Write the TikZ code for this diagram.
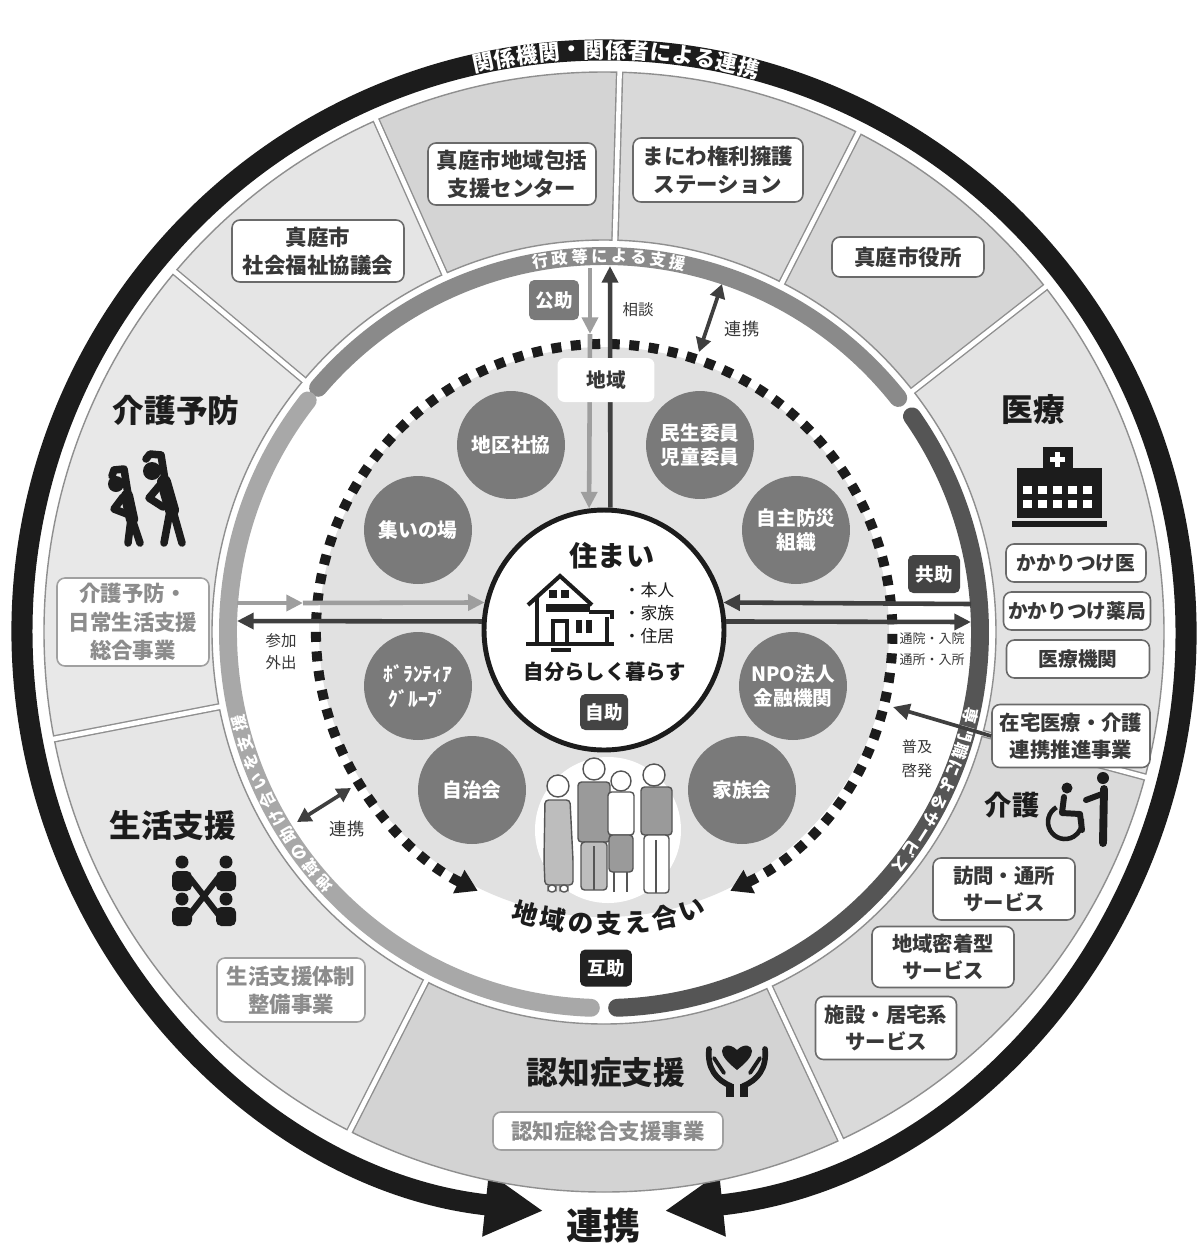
\documentclass[tikz,border=0pt]{standalone}
\usepackage{fontspec}
\setmainfont{Noto Sans CJK JP}
\usetikzlibrary{arrows.meta}

\definecolor{ink}{HTML}{1C1C1C}
\definecolor{dark}{HTML}{383838}
\definecolor{boxline}{HTML}{6A6A6A}
\definecolor{softtext}{HTML}{8C8C8C}
\definecolor{softline}{HTML}{A0A0A0}
\definecolor{segline}{HTML}{8F8F8F}
\definecolor{segA}{HTML}{D4D4D4}
\definecolor{segB}{HTML}{D9D9D9}
\definecolor{segC}{HTML}{D6D6D6}
\definecolor{segD}{HTML}{E3E3E3}
\definecolor{segE}{HTML}{DADADA}
\definecolor{segF}{HTML}{D3D3D3}
\definecolor{segG}{HTML}{E6E6E6}
\definecolor{segH}{HTML}{E8E8E8}
\definecolor{segI}{HTML}{E5E5E5}
\definecolor{bandtop}{HTML}{8A8A8A}
\definecolor{bandleft}{HTML}{A8A8A8}
\definecolor{bandright}{HTML}{555555}
\definecolor{disk}{HTML}{E1E1E1}
\definecolor{hubgray}{HTML}{7A7A7A}
\definecolor{lightline}{HTML}{9E9E9E}
\definecolor{darkline}{HTML}{3F3F3F}
\definecolor{tagmid}{HTML}{7A7A7A}
\definecolor{tagdark}{HTML}{444444}
\definecolor{tagblack}{HTML}{222222}
\definecolor{clothA}{HTML}{BDBDBD}
\definecolor{clothB}{HTML}{9A9A9A}
\definecolor{figline}{HTML}{555555}

\newcommand\fz[2]{\fontsize{#1pt}{#2pt}\selectfont}
% characters set one by one along a circle around the current origin
\newcommand\ringtext[6]{%
  \foreach \chr [count=\idx from 0] in {#6}{%
    \pgfmathsetmacro\ringang{#2+\idx*(#3)}%
    \node[#5, rotate=\ringang+#4] at (\ringang:#1) {\chr};
  }}

\tikzset{
  card/.style={draw=boxline,line width=0.9pt,fill=white,rounded corners=4.5pt,text=dark,
    align=center,inner sep=0pt,font=\bfseries\fz{12.2}{15.8}},
  softcard/.style={card,draw=softline,text=softtext},
  hub/.style={circle,fill=hubgray,text=white,minimum size=2.16cm,inner sep=0pt,
    align=center,font=\bfseries\fz{11.2}{14}},
  tag/.style={rounded corners=3pt,text=white,inner sep=0pt,minimum width=1cm,
    minimum height=0.74cm,font=\bfseries\fz{10.6}{12}},
  heading/.style={text=ink,font=\bfseries\fz{18}{20}},
  smalltext/.style={text=dark,align=center,font=\fz{8.8}{12.4}},
  ringglyph/.style={text=white,inner sep=0pt,font=\bfseries\fz{12.2}{12.2}},
  bandglyph/.style={text=white,inner sep=0pt,font=\bfseries\fz{9.2}{9.2}},
  arcglyph/.style={text=ink,inner sep=0pt,font=\bfseries\fz{14.6}{14.6}},
  conn/.style={line width=2.6pt,-{Triangle[length=9.5pt,width=9pt]}},
  twoway/.style={line width=2.1pt,{Triangle[length=8pt,width=8.5pt]}-{Triangle[length=8pt,width=8.5pt]}},
  sil/.style={ink,line width=4.3pt,line cap=round,line join=round},
  pl/.style={draw=figline,line width=0.8pt,rounded corners=2pt},
}

\begin{document}
\begin{tikzpicture}[x=0.02cm,y=-0.02cm]
\path[use as bounding box,fill=white] (0,0) rectangle (1203,1252);

% ---------- polar part, centred on the middle of the wheel ----------
\begin{scope}[shift={(604,632)},y=0.02cm]
  % outer linking ring with its two arrow heads
  \draw[ink,line width=12pt,{Triangle[length=33pt,width=34pt]}-{Triangle[length=33pt,width=34pt]}]
    (-84:582) arc[start angle=-84,end angle=264,radius=582];
  \ringtext{582}{102}{-2.2}{-90}{ringglyph}{関,係,機,関,・,関,係,者,に,よ,る,連,携}

  % sectors of the service ring
  \foreach \a/\b/\c in {88.4/114/segA,63/88.4/segB,38/63/segC,-15/38/segD,-65/-15/segE,
      -117/-65/segF,-169/-117/segG,140/191/segH,114/140/segI}{
    \fill[\c] (\a:392) arc[start angle=\a,end angle=\b,radius=392]
      -- (\b:560) arc[start angle=\b,end angle=\a,radius=560] -- cycle;
  }
  \draw[segline,line width=0.8pt] (0,0) circle[radius=560] (0,0) circle[radius=392];
  \foreach \a in {88.4,63,38,-15,-65,-117,191,140,114}{
    \draw[segline,line width=4.2pt] (\a:392) -- (\a:560);
    \draw[white,line width=2.6pt] (\a:389) -- (\a:563);
  }

  % support bands
  \draw[bandtop,line width=10.2pt,line cap=round] (38.5:376) arc[start angle=38.5,end angle=139.5,radius=376];
  \draw[bandleft,line width=10.2pt,line cap=round] (142:376) arc[start angle=142,end angle=268,radius=376];
  \draw[bandright,line width=10.2pt,line cap=round] (-88:376) arc[start angle=-88,end angle=35,radius=376];
  \ringtext{376}{99.7}{-3.0}{-90}{bandglyph}{行,政,等,に,よ,る,支,援}
  \ringtext{376}{222}{-3.1}{-90}{bandglyph}{地,域,の,助,け,合,い,を,支,援}
  \ringtext{376}{-12.9}{-2.8}{-90}{bandglyph}{専,門,職,に,よ,る,サ,ー,ビ,ス}

  % community disk and dotted boundary
  \fill[disk] (0,0) circle[radius=285];
  \draw[ink,line width=5.7pt,dash pattern=on 5.7pt off 5.4pt,
    {Triangle[length=12pt,width=14pt]}-{Triangle[length=12pt,width=14pt]}]
    (-64:288) arc[start angle=-64,end angle=244,radius=288];
\end{scope}

% white backdrop for the group of people
\fill[white] (608,830) circle[radius=73];

% ---------- centre: home ----------
\node[circle,draw=ink,line width=2.8pt,fill=white,minimum size=4.8cm,inner sep=0pt] (home) at (604,630) {};

% ---------- connectors ----------
\coordinate (bandL1) at (237,603);
\coordinate (midL) at (303,603);
\coordinate (bandL2) at (237,621);
\coordinate (bandR1) at (971,604);
\coordinate (bandR2) at (971,622);
\coordinate (bandT1) at (590,268);
\coordinate (midT) at (590,334);
\coordinate (bandT2) at (610,266);
\draw[conn,lightline] (bandL1) -- (midL);
\draw[conn,lightline] (midL) -- (home.167);
\draw[conn,darkline] (home.176) -- (bandL2);
\draw[conn,darkline] (bandR1) -- (home.13);
\draw[conn,darkline] (home.4) -- (bandR2);
\draw[conn,lightline] (bandT1) -- (midT);
\draw[conn,lightline] (midT) -- (home.97);
\draw[conn,darkline] (home.87) -- (bandT2);

\coordinate (ringTopA) at (699,352);
\coordinate (ringTopB) at (722,284);
\draw[twoway,darkline] (ringTopA) -- (ringTopB);
\coordinate (ringLeftA) at (297,822);
\coordinate (ringLeftB) at (351,788);
\draw[twoway,darkline] (ringLeftA) -- (ringLeftB);

% ---------- labels on the inner field ----------
\node[fill=white,rounded corners=4pt,minimum width=1.94cm,minimum height=0.88cm,text=dark,
  font=\bfseries\fz{11.2}{12}] (chiiki) at (606,380) {地域};
\node[tag,fill=tagmid,minimum width=1cm,minimum height=0.8cm] (kojo) at (554,300) {公助};
\node[tag,fill=tagdark,minimum width=1.04cm,minimum height=0.76cm] (kyojo) at (934,574) {共助};
\node[tag,fill=tagdark,minimum width=0.96cm,minimum height=0.72cm] (jijo) at (604,712) {自助};
\node[tag,fill=tagblack,minimum width=1.04cm,minimum height=0.74cm] (gojo) at (606,968) {互助};

\node[smalltext] (soudan) at (638,310) {相談};
\node[smalltext,font=\fz{9.8}{12}] (renkeiT) at (742,329) {連携};
\node[smalltext,font=\fz{9.8}{12}] (renkeiL) at (347,829) {連携};
\node[smalltext,font=\fz{8.8}{12.6}] (sanka) at (281,652) {参加\\外出};
\node[smalltext,font=\fz{7.4}{12.4}] (tsuin) at (932,649) {通院・入院\\通所・入所};
\node[smalltext,font=\fz{8.6}{13.4}] (fukyu) at (917,759) {普及\\啓発};

% ---------- community members ----------
\node[hub] (chiku) at (511,445) {地区社協};
\node[hub] (minsei) at (700,445) {民生委員\\児童委員};
\node[hub] (tsudoi) at (418,530) {集いの場};
\node[hub] (bousai) at (796,530) {自主防災\\組織};
\node[hub] (volun) at (418,686) {ﾎﾞﾗﾝﾃｨｱ\\ｸﾞﾙｰﾌﾟ};
\node[hub] (npo) at (793,686) {NPO法人\\金融機関};
\node[hub] (jichi) at (472,790) {自治会};
\node[hub] (kazoku) at (742,790) {家族会};

% ---------- home contents ----------
\node[text=ink,font=\bfseries\fz{16}{16}] (sumai) at (612,556) {住まい};
\node[text=ink,align=left,font=\fz{9.6}{13}] (members) at (649,613) {・本人\\・家族\\・住居};
\node[text=ink,font=\bfseries\fz{11.6}{12}] (jibun) at (605,672) {自分らしく暮らす};
% house pictogram
\draw[ink,line width=2.3pt,line join=miter] (528,605) -- (560,576) -- (592,605);
\draw[ink,line width=2.3pt] (537,598) -- (537,643);
\fill[ink] (546,604) rectangle (590,612);
\fill[ink] (549,590) rectangle (557,598);
\fill[ink] (561,590) rectangle (569,598);
\draw[ink,line width=2.3pt] (589,612) -- (612,612) -- (612,619);
\draw[ink,line width=2.3pt] (607,617) -- (607,643);
\draw[ink,line width=1.8pt] (553,643) -- (553,621) -- (567,621) -- (567,643);
\fill[ink] (576,620) rectangle (582,633);
\fill[ink] (586,620) rectangle (592,633);
\draw[ink,line width=2.6pt] (526,644) -- (614,644);
\draw[ink,line width=2.2pt] (551,650) -- (571,650);

% ---------- people of the neighbourhood ----------
\draw[pl,fill=clothA] (545,800) -- (570,800) -- (573,860) -- (573,885) -- (545,885) -- (544,860) -- cycle;
\draw[pl,fill=white] (548,885) rectangle (556,892);
\draw[pl,fill=white] (560,885) rectangle (568,892);
\draw[pl,fill=white] (558,786) circle[radius=11];
\draw[pl,fill=clothB] (578,782) rectangle (610,842);
\draw[pl,fill=clothA] (581,842) rectangle (607,890);
\draw[pl] (594,846) -- (594,890);
\draw[pl,fill=white] (594,769) circle[radius=11];
\draw[pl,fill=white] (608,792) rectangle (634,835);
\draw[pl,fill=clothB] (609,835) rectangle (633,872);
\draw[pl] (614,872) -- (614,892) (627,872) -- (627,892);
\draw[pl,fill=white] (621,781) circle[radius=10];
\draw[pl,fill=clothB] (641,787) rectangle (672,835);
\draw[pl,fill=white] (644,835) rectangle (669,893);
\draw[pl] (656,840) -- (656,893);
\draw[pl,fill=white] (654,775) circle[radius=11];

\begin{scope}[shift={(604,632)},y=0.02cm]
  \ringtext{292}{-105.5}{5.5}{90}{arcglyph}{地,域,の,支,え,合,い}
\end{scope}

% ---------- organisations in the ring ----------
\node[card,minimum width=3.36cm,minimum height=1.24cm] (houkatsu) at (512,174) {真庭市地域包括\\支援センター};
\node[card,minimum width=3.4cm,minimum height=1.28cm] (kenri) at (718,170) {まにわ権利擁護\\ステーション};
\node[card,minimum width=3.44cm,minimum height=1.24cm] (shakyo) at (318,251) {真庭市\\社会福祉協議会};
\node[card,minimum width=3.04cm,minimum height=0.8cm] (shiyakusho) at (908,257) {真庭市役所};
\node[softcard,minimum width=3.04cm,minimum height=1.76cm,font=\bfseries\fz{12.2}{16.4}] (sougou) at (133,622) {介護予防・\\日常生活支援\\総合事業};
\node[softcard,minimum width=2.96cm,minimum height=1.28cm] (taisei) at (291,990) {生活支援体制\\整備事業};
\node[softcard,minimum width=4.6cm,minimum height=0.76cm] (ninchi) at (608,1131) {認知症総合支援事業};
\node[card,minimum width=2.8cm,minimum height=0.76cm,font=\bfseries\fz{11.2}{12}] (kakari) at (1076,563) {かかりつけ医};
\node[card,minimum width=2.94cm,minimum height=0.76cm,font=\bfseries\fz{11.2}{12}] (yakkyoku) at (1077,611) {かかりつけ薬局};
\node[card,minimum width=2.86cm,minimum height=0.76cm,font=\bfseries\fz{11.2}{12}] (kikan) at (1078,659) {医療機関};
\node[card,minimum width=3.16cm,minimum height=1.26cm,font=\bfseries\fz{11.6}{15.4}] (zaitaku) at (1071,736) {在宅医療・介護\\連携推進事業};
\node[card,minimum width=2.84cm,minimum height=1.24cm,font=\bfseries\fz{11.6}{15.6}] (houmon) at (1004,889) {訪問・通所\\サービス};
\node[card,minimum width=2.84cm,minimum height=1.22cm,font=\bfseries\fz{11.6}{15.6}] (mitchaku) at (943,957) {地域密着型\\サービス};
\node[card,minimum width=2.82cm,minimum height=1.26cm,font=\bfseries\fz{11.6}{15.6}] (shisetsu) at (886,1028) {施設・居宅系\\サービス};

\coordinate (fukyuEnd) at (893,707);
\draw[conn,darkline,line width=2.1pt] (zaitaku.west) -- (fukyuEnd);

% ---------- sector headings ----------
\node[heading] (yobou) at (176,410) {介護予防};
\node[heading] (iryou) at (1033,410) {医療};
\node[heading] (shien) at (173,825) {生活支援};
\node[heading] (ninchisho) at (606,1072) {認知症支援};
\node[heading,font=\bfseries\fz{15.5}{16}] (kaigo) at (1012,805) {介護};
\node[text=ink,font=\bfseries\fz{21}{22}] (renkeiB) at (603,1226) {連携};

% exercise pictogram: two stretching figures
\fill[ink] (116,484) circle[radius=8];
\draw[sil] (112,476) -- (114,470) -- (124,469) -- (128,494);
\draw[sil,line width=7pt] (127,496) -- (132,519);
\draw[sil] (123,497) -- (114,509) -- (127,514);
\draw[sil] (131,519) -- (128,543);
\draw[sil] (132,519) -- (140,543);
\fill[ink] (152,471) circle[radius=9];
\draw[sil] (146,459) -- (150,454) -- (161,455) -- (165,480);
\draw[sil,line width=8pt] (164,482) -- (172,510);
\draw[sil] (160,485) -- (149,498) -- (163,507);
\draw[sil] (170,511) -- (164,543);
\draw[sil] (173,511) -- (182,543);

% hospital pictogram
\fill[ink] (1043,447) rectangle (1073,470);
\fill[ink] (1017,468) rectangle (1102,518);
\fill[ink] (1012,521) rectangle (1107,527);
\fill[white] (1055,452) rectangle (1060,467);
\fill[white] (1050,457) rectangle (1065,462);
\foreach \wx in {1023,1038,1053,1068,1083}{
  \foreach \wy in {486,500}{
    \fill[white] (\wx,\wy) rectangle ++(9,8);
  }
}

% daily-life support pictogram
\foreach \hx in {182,226}{
  \fill[ink] (\hx,862) circle[radius=6.5];
  \fill[ink] (\hx,899) circle[radius=6.5];
  \fill[ink,rounded corners=3pt] (\hx-10,871) rectangle (\hx+10,891);
  \fill[ink,rounded corners=3pt] (\hx-10,907) rectangle (\hx+10,926);
}
\draw[ink,line width=3.4pt] (190,878) -- (218,914);
\draw[ink,line width=3.4pt] (218,878) -- (190,914);

% heart in hands pictogram
\fill[ink] (737,1070) .. controls (727,1062) and (722,1056) .. (722,1051)
  .. controls (722,1045) and (730,1043) .. (737,1050)
  .. controls (744,1043) and (752,1045) .. (752,1051)
  .. controls (752,1056) and (747,1062) .. (737,1070) -- cycle;
\draw[ink,line width=3.2pt,line cap=round] (709,1049) .. controls (707,1068) and (716,1080) .. (731,1086);
\draw[ink,line width=3.2pt,line cap=round] (765,1049) .. controls (767,1068) and (758,1080) .. (743,1086);
\draw[ink,line width=2.2pt,line cap=round] (714,1058) -- (724,1073);
\draw[ink,line width=2.2pt,line cap=round] (760,1058) -- (750,1073);
\fill[ink] (726,1084) rectangle (734,1097);
\fill[ink] (740,1084) rectangle (748,1097);

% care pictogram
\fill[ink] (1067,788) circle[radius=5.5];
\draw[sil,line width=3.4pt] (1064,797) -- (1062,813) -- (1080,814) -- (1082,830);
\draw[ink,line width=2.6pt] (1065,822) ++(-120:17) arc[start angle=-120,end angle=-370,radius=17];
\fill[ink] (1103,778) circle[radius=6];
\draw[sil,line width=4.5pt] (1104,789) -- (1103,843);
\draw[sil,line width=3.4pt] (1102,794) -- (1086,800);

\end{tikzpicture}
\end{document}
